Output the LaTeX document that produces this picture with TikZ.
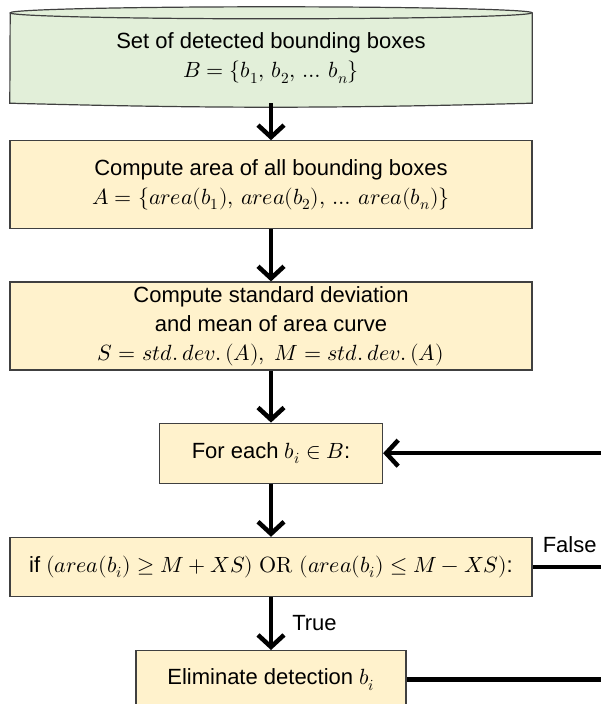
\documentclass[tikz,border=0pt]{standalone}
\usepackage{fontspec}
\usepackage{unicode-math}
\setmainfont{Liberation Sans}
\usetikzlibrary{positioning, arrows.meta, backgrounds}
\definecolor{lightgreen}{RGB}{226,239,217}
\definecolor{lightyellow}{RGB}{255,242,204}
\definecolor{boxborder}{RGB}{64,64,64}

\begin{document}
\begin{tikzpicture}[
    x=1pt, y=-1pt,
    node distance=52pt,
    textnode/.style={rectangle, align=center, inner sep=0pt, font=\fontsize{22}{29}\selectfont},
    process/.style={textnode, draw=boxborder, line width=1.2pt, fill=lightyellow, minimum width=522pt},
    arrow/.style={-{Straight Barb[length=12pt, width=26pt]}, line width=4.5pt},
    flowline/.style={line width=4.5pt},
    edgelabel/.style={inner sep=0pt, font=\fontsize{22}{26}\selectfont}
]
    \useasboundingbox (0,0) rectangle (601,704);
    \clip (0,0) rectangle (601,704);
    \coordinate (rim) at (601,0);

    % Input: set of boxes
    \node[textnode, minimum width=522pt, minimum height=90pt] (detected) at (271,58)
        {Set of detected bounding boxes\\$B=\{b_1,\,b_2,\,\ldots\, b_n\}$};
    \begin{scope}[on background layer]
        \draw[draw=boxborder, line width=1.2pt, fill=lightgreen]
            (detected.south west) to[bend right=1.5] (detected.south east)
            -- (detected.north east)
            arc[start angle=0, end angle=180, x radius=261pt, y radius=6pt] -- cycle;
        \draw[draw=boxborder, line width=1.2pt]
            (detected.north west) arc[start angle=180, end angle=360, x radius=261pt, y radius=6pt];
    \end{scope}

    % Steps
    \node[process, minimum height=88pt, below=37pt of detected] (areas)
        {Compute area of all bounding boxes\\$A=\{area(b_1),\,area(b_2),\,\ldots\, area(b_n)\}$};
    \node[process, minimum height=88pt, below=52pt of areas] (stats)
        {Compute standard deviation\\and mean of area curve\\$S=std.\,dev.\,(A),\ M=std.\,dev.\,(A)$};
    \node[process, minimum width=223pt, minimum height=60pt, below=52pt of stats] (foreach)
        {For each $b_i\in B$:};
    \node[process, minimum height=59pt, below=53pt of foreach] (check)
        {if $(area(b_i)\geq M+XS)\ \symup{OR}\ (area(b_i)\leq M-XS)$:};
    \node[process, minimum width=270pt, minimum height=58pt, below=53pt of check] (eliminate)
        {Eliminate detection $b_i$};

    % Arrows - main flow
    \draw[arrow] (detected) -- (areas);
    \draw[arrow] (areas) -- (stats);
    \draw[arrow] (stats) -- (foreach);
    \draw[arrow] (foreach) -- (check);
    \draw[arrow] (check) -- node[edgelabel, right=19pt] (truelbl) {True} (eliminate);

    % Loop back
    \coordinate (loopin) at (foreach.east -| rim);
    \coordinate (falseout) at (check.east -| rim);
    \coordinate (elimout) at (eliminate.east -| rim);
    \draw[arrow] (loopin) -- (foreach.east);
    \draw[flowline] (check.east) -- (falseout);
    \draw[flowline] (eliminate.east) -- (elimout);
    \node[edgelabel, anchor=west] (falselbl) at ([xshift=10pt, yshift=22pt]check.east) {False};

\end{tikzpicture}
\end{document}
